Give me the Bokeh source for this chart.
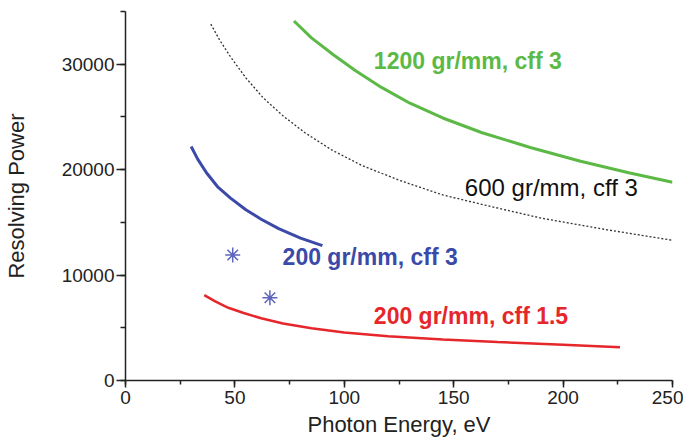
from bokeh.plotting import figure
from bokeh.models import SingleIntervalTicker, NumeralTickFormatter, Range1d, Label
from bokeh.embed import file_html
from bokeh.resources import INLINE

# ---- data ----
green_e = [77, 85, 95, 105, 117, 130, 145, 163, 185, 208, 230, 250]
green_r = [34100, 32500, 30900, 29400, 27800, 26300, 24900, 23500, 22100, 20800, 19700, 18800]

dash_e = [39, 43, 48, 55, 63, 72, 82, 94, 108, 125, 145, 165, 190, 220, 250]
dash_r = [33800, 32300, 30700, 28700, 26800, 25100, 23500, 21900, 20400, 19000, 17600, 16600, 15400, 14300, 13300]

blue_e = [30, 33, 37, 42, 48, 55, 62, 70, 80, 90]
blue_r = [22200, 21000, 19700, 18400, 17300, 16200, 15300, 14400, 13500, 12800]

red_e = [36, 41, 47, 54, 62, 72, 85, 100, 120, 145, 170, 200, 226]
red_r = [8100, 7500, 6900, 6400, 5900, 5400, 4950, 4550, 4200, 3900, 3650, 3400, 3150]

star_e = [49, 66]
star_r = [11900, 7850]

labels = ["1200 gr/mm, cff 3", "600 gr/mm, cff 3", "200 gr/mm, cff 3", "200 gr/mm, cff 1.5"]
label_e = [113.5, 155.1, 71.8, 113.5]
label_r = [30300, 18280, 11740, 6150]

GREEN = "#5cb946"
BLUE = "#3b4aa8"
RED = "#e5262b"
STAR = "#5e66bd"
FONT = "Liberation Sans"

p = figure(width=683, height=440, output_backend="svg", toolbar_location=None,
           x_range=Range1d(0, 250), y_range=Range1d(0, 35000),
           min_border_left=121, min_border_right=11, min_border_top=11, min_border_bottom=60)
p.outline_line_color = None
p.xgrid.visible = False
p.ygrid.visible = False
p.background_fill_color = "white"

p.line(green_e, green_r, line_color=GREEN, line_width=3)
p.line(dash_e, dash_r, line_color="#333333", line_width=1.3, line_dash="2 2")
p.line(blue_e, blue_r, line_color=BLUE, line_width=3)
p.line(red_e, red_r, line_color=RED, line_width=2.5)
p.scatter(star_e, star_r, marker="asterisk", size=15, line_color=STAR, line_width=1.5)

colors = [GREEN, "#111111", BLUE, RED]
styles = ["bold", "normal", "bold", "bold"]
sizes = ["23px", "24px", "23px", "23px"]
for t, x, y, c, s, fs in zip(labels, label_e, label_r, colors, styles, sizes):
    p.add_layout(Label(x=x, y=y, text=t, text_color=c, text_font=FONT, text_font_size=fs,
                       text_font_style=s, text_baseline="middle", text_align="left"))

for ax in (p.xaxis[0], p.yaxis[0]):
    ax.axis_line_color = "#222222"
    ax.axis_line_width = 1.5
    ax.major_tick_line_color = "#222222"
    ax.minor_tick_line_color = "#222222"
    ax.major_tick_line_width = 1.5
    ax.minor_tick_line_width = 1.5
    ax.major_tick_in = 0
    ax.minor_tick_in = 0
    ax.major_label_text_font = FONT
    ax.major_label_text_font_size = "19px"
    ax.major_label_text_color = "#222222"
    ax.axis_label_text_font = FONT
    ax.axis_label_text_font_size = "22px"
    ax.axis_label_text_font_style = "normal"
    ax.axis_label_text_color = "#222222"
    ax.formatter = NumeralTickFormatter(format="0")

p.xaxis.ticker = SingleIntervalTicker(interval=50, num_minor_ticks=2)
p.yaxis.ticker = SingleIntervalTicker(interval=10000, num_minor_ticks=2)
p.xaxis.major_tick_out = 7
p.xaxis.minor_tick_out = 4
p.yaxis.major_tick_out = 9
p.yaxis.minor_tick_out = 5
p.xaxis.major_label_standoff = 3
p.yaxis.major_label_standoff = 2
p.xaxis.axis_label = "Photon Energy, eV"
p.yaxis.axis_label = "Resolving Power"
p.xaxis.axis_label_standoff = 5
p.yaxis.axis_label_standoff = 30

open("out.html", "w").write(file_html(p, INLINE))
